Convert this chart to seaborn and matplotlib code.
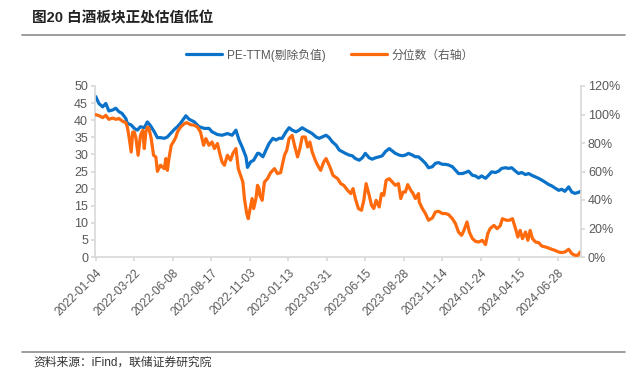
import matplotlib
matplotlib.use("Agg")
import matplotlib.pyplot as plt
import matplotlib.ticker as mticker
import seaborn as sns
import pandas as pd

# ---- data ----
tick_labels = ["2022-01-04", "2022-03-22", "2022-06-08", "2022-08-17", "2022-11-03",
               "2023-01-13", "2023-03-31", "2023-06-15", "2023-08-28", "2023-11-14",
               "2024-01-24", "2024-04-15", "2024-06-28"]
tick_days = [0, 50, 100, 150, 200, 250, 300, 350, 400, 450, 500, 550, 600]

pe_day = [0, 4, 9, 13, 17, 22, 26, 30, 34, 39, 41, 46, 50, 54, 58, 63, 67, 71, 76, 80,
          84, 89, 93, 97, 102, 106, 110, 115, 117, 121, 128, 134, 141, 147, 151, 158,
          164, 171, 177, 182, 186, 190, 195, 197, 201, 205, 210, 212, 217, 221, 225,
          230, 234, 238, 242, 247, 251, 255, 260, 264, 268, 273, 277, 281, 286, 290,
          294, 299, 303, 307, 312, 316, 320, 324, 329, 333, 337, 342, 346, 350, 355,
          359, 363, 368, 372, 376, 381, 385, 389, 394, 398, 402, 406, 411, 415, 419,
          424, 428, 432, 437, 441, 445, 450, 454, 458, 463, 467, 471, 476, 480, 484,
          489, 493, 497, 501, 506, 510, 514, 519, 523, 527, 532, 536, 540, 545, 549,
          553, 558, 562, 566, 571, 575, 579, 584, 588, 592, 596, 601, 605, 609, 614,
          618, 622, 627, 629]
pe_val = [46.9, 44.9, 43.9, 44.9, 42.7, 43.0, 43.5, 42.5, 42.0, 40.5, 39.1, 38.6, 37.6,
          37.1, 38.1, 37.8, 39.5, 38.4, 36.6, 34.9, 34.9, 34.7, 35.1, 36.1, 37.3, 38.1,
          39.1, 40.7, 41.3, 40.3, 39.5, 38.1, 37.6, 37.6, 36.6, 35.8, 35.6, 36.1, 35.6,
          37.1, 34.2, 32.2, 29.3, 26.2, 27.8, 28.3, 30.3, 30.3, 29.3, 31.3, 33.2, 34.7,
          34.2, 34.7, 34.7, 36.6, 37.8, 37.1, 36.6, 37.1, 37.8, 37.1, 36.6, 36.1, 35.1,
          34.7, 35.1, 35.6, 34.9, 33.7, 32.7, 31.3, 30.8, 30.3, 29.8, 29.6, 28.8, 28.3,
          29.0, 30.3, 29.0, 28.6, 29.0, 29.3, 29.6, 30.8, 31.7, 31.0, 30.3, 29.8, 29.6,
          29.8, 30.3, 29.8, 29.3, 29.3, 28.3, 27.4, 26.1, 26.4, 27.4, 27.6, 27.1, 27.1,
          26.9, 26.4, 25.4, 24.4, 24.4, 24.7, 25.1, 23.9, 23.7, 23.1, 23.7, 23.0, 23.9,
          24.9, 24.7, 25.1, 25.9, 26.1, 25.9, 26.1, 25.1, 24.4, 24.7, 24.1, 24.4, 23.9,
          23.4, 23.0, 22.5, 21.8, 21.2, 20.8, 20.2, 19.5, 19.8, 19.2, 20.5, 19.0, 18.6,
          18.9, 19.2]

pct_day = [0, 5, 9, 13, 17, 22, 26, 30, 35, 39, 41, 43, 46, 48, 50, 52, 55, 58, 61, 63,
           65, 67, 69, 72, 75, 78, 80, 84, 89, 91, 93, 95, 98, 102, 104, 106, 110, 115,
           118, 123, 128, 132, 136, 140, 143, 147, 151, 154, 158, 161, 164, 167, 171,
           175, 178, 182, 185, 188, 191, 193, 196, 198, 200, 203, 205, 208, 210, 212,
           213, 216, 219, 223, 227, 232, 236, 240, 245, 248, 251, 255, 258, 262, 265,
           268, 272, 275, 278, 281, 285, 288, 292, 296, 299, 304, 308, 314, 318, 322,
           327, 331, 334, 337, 341, 345, 348, 351, 355, 358, 361, 364, 368, 371, 374,
           377, 381, 385, 389, 393, 396, 399, 402, 405, 409, 412, 415, 419, 420, 424,
           428, 432, 437, 441, 445, 450, 454, 458, 463, 467, 471, 475, 478, 482, 485,
           489, 493, 497, 502, 506, 509, 512, 517, 521, 525, 528, 533, 537, 541, 545,
           548, 551, 554, 558, 561, 564, 567, 571, 575, 579, 584, 588, 592, 596, 601,
           605, 609, 614, 618, 622, 626, 629]
pct_val = [99.9, 99.0, 97.8, 99.4, 96.6, 97.5, 96.6, 97.2, 95.2, 94.3, 91.2, 85.0, 73.7,
           87.7, 87.7, 84.0, 71.4, 85.4, 88.9, 76.1, 87.7, 91.2, 90.5, 83.1, 71.4, 70.2,
           60.1, 64.4, 62.0, 69.1, 60.8, 69.1, 78.4, 81.9, 84.2, 87.7, 91.2, 93.6, 94.3,
           92.9, 92.4, 91.2, 87.7, 78.4, 83.1, 78.4, 80.7, 76.1, 79.6, 72.6, 66.7, 64.4,
           71.4, 67.9, 72.6, 76.1, 62.0, 57.3, 52.6, 41.0, 30.5, 26.9, 32.8, 41.0, 34.0,
           41.0, 50.3, 48.0, 43.3, 39.8, 52.6, 55.0, 59.2, 62.0, 58.5, 59.2, 71.4, 74.9,
           83.1, 85.4, 78.4, 70.2, 76.1, 84.2, 84.2, 77.2, 80.7, 73.7, 67.9, 64.4, 60.8,
           66.7, 69.1, 63.2, 57.3, 55.0, 51.5, 50.3, 46.8, 44.5, 48.0, 41.0, 34.0, 32.8,
           39.8, 51.5, 43.3, 36.3, 34.0, 39.8, 35.1, 44.5, 43.3, 53.8, 55.0, 52.6, 50.3,
           51.5, 41.0, 45.6, 45.6, 50.8, 46.8, 44.5, 41.0, 44.5, 38.6, 34.0, 30.5, 25.8,
           27.4, 31.6, 32.1, 30.5, 30.5, 29.8, 26.9, 23.4, 17.5, 15.2, 18.7, 24.6, 17.5,
           12.9, 11.0, 10.5, 11.7, 8.7, 16.4, 19.9, 22.2, 19.9, 21.8, 26.9, 25.8, 25.8,
           26.9, 19.9, 14.0, 18.7, 12.9, 17.5, 11.7, 18.7, 12.9, 10.5, 10.1, 7.7, 7.0,
           6.3, 5.4, 4.7, 3.5, 3.1, 3.5, 5.4, 2.4, 1.2, 1.2, 3.5]

title = "图20 白酒板块正处估值低位"
source = "资料来源：iFind，联储证券研究院"
label_pe = "PE-TTM(剔除负值)"
label_pct = "分位数（右轴）"

# ---- style ----
sns.set_theme(style="white")
plt.rcParams["font.family"] = ["Liberation Sans", "Noto Sans CJK SC", "DejaVu Sans"]
BLUE = "#0a72c9"
ORANGE = "#ff6a0d"
GRID = "#d9d9d9"
TXT = "#595959"

df_pe = pd.DataFrame({"day": pe_day, "pe": pe_val})
df_pct = pd.DataFrame({"day": pct_day, "pct": [v / 100 for v in pct_val]})

fig = plt.figure(figsize=(6.37, 3.76), dpi=100)
ax = fig.add_axes([95 / 637, 1 - 257 / 376, (581 - 95) / 637, (257 - 86) / 376])
ax2 = ax.twinx()

sns.lineplot(data=df_pe, x="day", y="pe", ax=ax, color=BLUE, linewidth=2.3, label=label_pe, legend=False)
sns.lineplot(data=df_pct, x="day", y="pct", ax=ax2, color=ORANGE, linewidth=2.3, label=label_pct, legend=False)

ax.set_xlim(-1, 630)
ax.set_ylim(0, 50)
ax.set_yticks(range(0, 51, 5))
ax2.set_ylim(0, 1.2)
ax2.set_yticks([0, 0.2, 0.4, 0.6, 0.8, 1.0, 1.2])
ax2.yaxis.set_major_formatter(mticker.FuncFormatter(lambda v, p: f"{v*100:.0f}%"))
ax.set_xticks(tick_days)
ax.set_xticklabels(tick_labels, rotation=45, ha="right", rotation_mode="anchor")
ax.set_xlabel("")
ax.set_ylabel("")
ax2.set_ylabel("")

for a in (ax, ax2):
    for s in a.spines.values():
        s.set_visible(False)
    a.grid(False)
    a.set_facecolor("none")
ax.spines["left"].set_visible(True)
ax.spines["left"].set_color(GRID)
ax.spines["bottom"].set_visible(True)
ax.spines["bottom"].set_color(GRID)
ax2.spines["right"].set_visible(True)
ax2.spines["right"].set_color(GRID)

ax.tick_params(axis="y", colors=TXT, labelsize=9, length=3, color=GRID, pad=2, direction="out", left=True)
ax.tick_params(axis="x", colors=TXT, labelsize=8.5, length=3, color=GRID, pad=4, direction="out", bottom=True)
ax2.tick_params(axis="y", colors=TXT, labelsize=9, length=3, color=GRID, pad=2, direction="out", right=True)

# legend
h1, l1 = ax.get_legend_handles_labels()
h2, l2 = ax2.get_legend_handles_labels()
fig.legend(h1 + h2, l1 + l2, loc="center", bbox_to_anchor=(330 / 637, 1 - 55 / 376), ncol=2,
           frameon=False, fontsize=8.5, handlelength=3.0, columnspacing=2.2,
           labelcolor=TXT, handletextpad=0.4)

# title, rules and source
fig.text(32 / 637, 1 - 18 / 376, title, fontsize=10.5, fontweight="bold", color="#222222",
         va="center", ha="left")
fig.add_artist(plt.Line2D([22 / 637, 625 / 637], [1 - 35 / 376] * 2, color="#8c8c8c", lw=1.2))
fig.add_artist(plt.Line2D([22 / 637, 625 / 637], [1 - 352 / 376] * 2, color="#8c8c8c", lw=1.2))
fig.text(33 / 637, 1 - 363 / 376, source, fontsize=8.5, color="#333333", va="center", ha="left")

fig.savefig("out.png", dpi=100)
